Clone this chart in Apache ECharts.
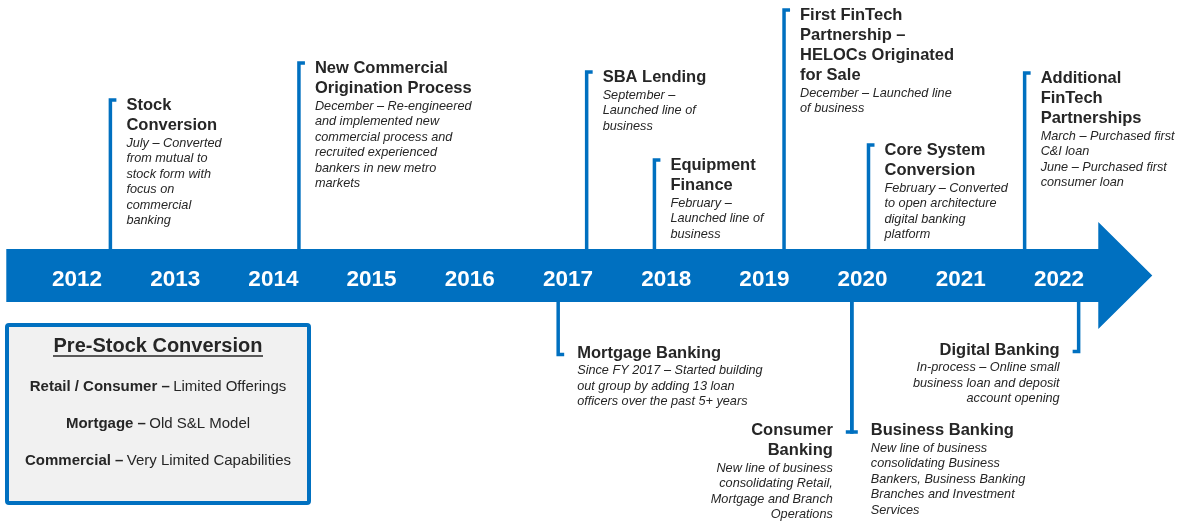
<!DOCTYPE html>
<html>
<head>
<meta charset="utf-8">
<title>Milestones timeline</title>
<script src="https://cdn.jsdelivr.net/npm/echarts@6/dist/echarts.min.js"></script>
<style>
  html, body { margin: 0; padding: 0; background: #fff; }
  #chart { width: 1178px; height: 528px; }
</style>
</head>
<body>
<div id="chart"></div>
<script>
// timeline years (label centres)
const years = [2012, 2013, 2014, 2015, 2016, 2017, 2018, 2019, 2020, 2021, 2022]

// where the arrow starts / the head begins / the tip sits, in years
const timelineStart = 2011.28
const timelineHeadBase = 2022.40
const timelineTip = 2022.95

// milestones: title, detail text, position on the timeline, stem reach (+ above / - below)
const milestoneTitles = [
  'Stock\nConversion',
  'New Commercial\nOrigination Process',
  'SBA Lending',
  'Equipment\nFinance',
  'First FinTech\nPartnership –\nHELOCs Originated\nfor Sale',
  'Core System\nConversion',
  'Additional\nFinTech\nPartnerships',
  'Mortgage Banking',
  'Consumer\nBanking',
  'Business Banking',
  'Digital Banking',
]
const milestoneDetails = [
  'July – Converted\nfrom mutual to\nstock form with\nfocus on\ncommercial\nbanking',
  'December – Re-engineered\nand implemented new\ncommercial process and\nrecruited experienced\nbankers in new metro\nmarkets',
  'September –\nLaunched line of\nbusiness',
  'February –\nLaunched line of\nbusiness',
  'December – Launched line\nof business',
  'February – Converted\nto open architecture\ndigital banking\nplatform',
  'March – Purchased first\nC&I loan\nJune – Purchased first\nconsumer loan',
  'Since FY 2017 – Started building\nout group by adding 13 loan\nofficers over the past 5+ years',
  'New line of business\nconsolidating Retail,\nMortgage and Branch\nOperations',
  'New line of business\nconsolidating Business\nBankers, Business Banking\nBranches and Investment\nServices',
  'In-process – Online small\nbusiness loan and deposit\naccount opening',
]
const milestoneDates = [2012.34, 2014.26, 2017.19, 2017.88, 2019.20, 2020.06, 2021.65, 2016.90, 2019.89, 2019.89, 2022.20]
const milestoneReach = [175.5, 212.5, 203.5, 115.5, 265.5, 130.5, 202.5, -79, -156.5, -156.5, -76]
// which side of the stem the text sits on
const milestoneSide = ['right', 'right', 'right', 'right', 'right', 'right', 'right', 'right', 'left', 'right', 'left']

// pre-stock box
const boxTitle = 'Pre-Stock Conversion'
const boxLabels = ['Retail / Consumer', 'Mortgage', 'Commercial']
const boxValues = ['Limited Offerings', 'Old S&L Model', 'Very Limited Capabilities']

const BLUE = '#0070C0'
const INK = '#262626'
const FONT = '"Liberation Sans", Arial, sans-serif'
const BAND_HALF = 26.5
const HEAD_HALF = 53.5

const chart = echarts.init(document.getElementById('chart'), null, { renderer: 'canvas' })

function renderBand(params, api) {
  const s = api.coord([timelineStart, 0])
  const b = api.coord([timelineHeadBase, 0])
  const t = api.coord([timelineTip, 0])
  const cy = s[1]
  return {
    type: 'polygon',
    shape: {
      points: [
        [s[0], cy - BAND_HALF], [b[0], cy - BAND_HALF], [b[0], cy - HEAD_HALF],
        [t[0], cy], [b[0], cy + HEAD_HALF], [b[0], cy + BAND_HALF], [s[0], cy + BAND_HALF],
      ],
    },
    style: { fill: BLUE },
  }
}

function renderYear(params, api) {
  const p = api.coord([api.value(0), 0])
  return {
    type: 'text',
    x: p[0],
    y: p[1] + 4,
    style: {
      text: String(api.value(0)),
      font: 'bold 22.5px ' + FONT,
      fill: '#fff',
      align: 'center',
      verticalAlign: 'middle',
    },
  }
}

function renderMilestone(params, api) {
  const i = params.dataIndex
  const date = api.value(0)
  const reach = api.value(1)
  const base = api.coord([date, 0])
  const endY = api.coord([date, reach])[1]
  const x = base[0]
  const up = reach > 0
  const edge = up ? base[1] - BAND_HALF : base[1] + BAND_HALF
  const dir = milestoneSide[i] === 'right' ? 1 : -1

  const title = milestoneTitles[i]
  const titleLines = title.split('\n').length
  const titleCenter = up ? endY + 5.5 : endY - 1.5
  const textX = up ? x + 16 : x + dir * 19
  const align = dir > 0 ? 'left' : 'right'

  return {
    type: 'group',
    children: [
      {
        type: 'polyline',
        shape: { points: [[x + dir * 6, endY], [x, endY], [x, edge]] },
        style: { stroke: BLUE, lineWidth: 3.5, fill: null, lineJoin: 'miter', lineCap: 'butt' },
      },
      {
        type: 'text',
        x: textX,
        y: titleCenter - 10,
        style: {
          text: title,
          font: 'bold 16.5px ' + FONT,
          fill: INK,
          align: align,
          verticalAlign: 'top',
          lineHeight: 20,
        },
      },
      {
        type: 'text',
        x: textX,
        y: titleCenter + 20 * (titleLines - 1) + 17.5 - 7.75,
        style: {
          text: milestoneDetails[i],
          font: 'italic 12.7px ' + FONT,
          fill: INK,
          align: align,
          verticalAlign: 'top',
          lineHeight: 15.5,
        },
      },
    ],
  }
}

const boxRows = boxLabels.map((label, i) => ({
  type: 'text',
  x: 158,
  y: 387 + i * 37,
  style: {
    text: '{b|' + label + ' –} {r|' + boxValues[i] + '}',
    align: 'center',
    verticalAlign: 'middle',
    rich: {
      b: { font: 'bold 15px ' + FONT, fill: INK },
      r: { font: '15px ' + FONT, fill: INK },
    },
  },
}))

const option = {
  animation: false,
  grid: { left: 0, right: 0, top: 0, bottom: 0 },
  xAxis: { type: 'value', min: 2011.2159, max: 2023.2118, show: false },
  yAxis: { type: 'value', min: -252.5, max: 275.5, show: false },
  graphic: [
    {
      type: 'rect',
      shape: { x: 7, y: 325, width: 302, height: 178, r: 2 },
      style: { fill: '#F1F1F1', stroke: BLUE, lineWidth: 4 },
    },
    {
      type: 'text',
      x: 158,
      y: 346,
      style: {
        text: boxTitle,
        font: 'bold 20px ' + FONT,
        fill: INK,
        align: 'center',
        verticalAlign: 'middle',
      },
    },
    {
      type: 'line',
      shape: { x1: 53, y1: 356, x2: 263, y2: 356 },
      style: { stroke: INK, lineWidth: 1.5 },
    },
    ...boxRows,
  ],
  series: [
    {
      type: 'custom',
      name: 'band',
      clip: false,
      silent: true,
      renderItem: renderBand,
      data: [[timelineStart, 0]],
    },
    {
      type: 'custom',
      name: 'years',
      clip: false,
      silent: true,
      renderItem: renderYear,
      data: years.map(y => [y, 0]),
    },
    {
      type: 'custom',
      name: 'milestones',
      clip: false,
      silent: true,
      renderItem: renderMilestone,
      data: milestoneDates.map((d, i) => [d, milestoneReach[i]]),
    },
  ],
}

chart.setOption(option)
</script>
</body>
</html>
